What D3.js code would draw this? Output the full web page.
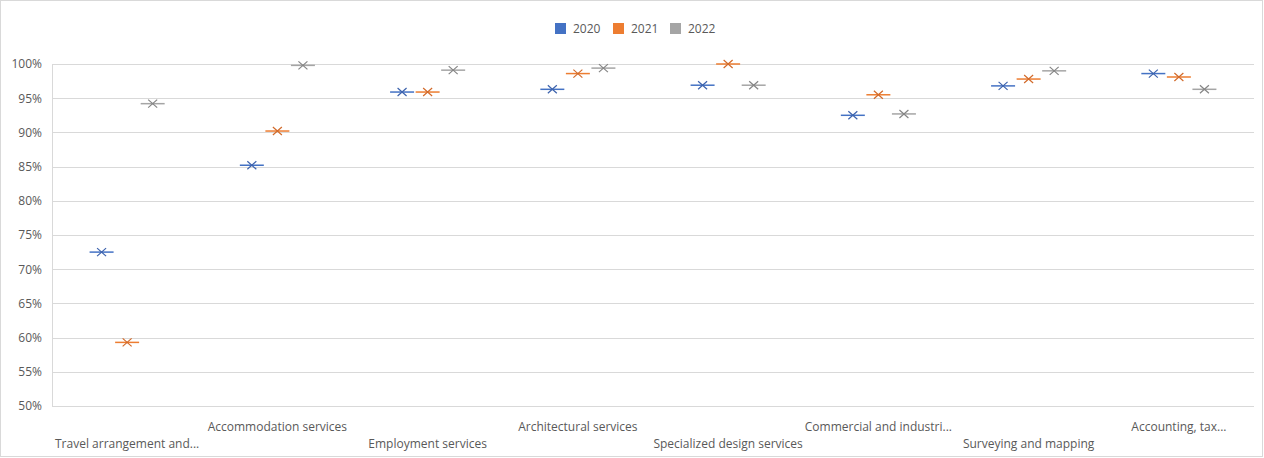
<!DOCTYPE html>
<html><head><meta charset="utf-8">
<script src="https://cdn.jsdelivr.net/npm/d3@7"></script>
<style>
html,body{margin:0;padding:0;background:#fff;}
svg{display:block;font-family:"Open Sans","Liberation Sans",sans-serif;}
</style></head>
<body><svg id="c" width="1264" height="458"></svg>
<script>
const categories = ["Travel arrangement and...","Accommodation services","Employment services","Architectural services","Specialized design services","Commercial and industri...","Surveying and mapping","Accounting, tax..."];
const seriesNames = ["2020","2021","2022"];
const values2020 = [72.5, 85.2, 95.9, 96.3, 96.9, 92.5, 96.8, 98.6];
const values2021 = [59.3, 90.2, 95.9, 98.6, 100.0, 95.5, 97.8, 98.1];
const values2022 = [94.2, 99.8, 99.1, 99.4, 96.9, 92.7, 99.0, 96.3];
const yTicks = [50,55,60,65,70,75,80,85,90,95,100];
const colors = ["#4472C4","#ED7D31","#A5A5A5"];
const markColors = ["#3d63ad","#d26a2a","#858585"];
const series = [values2020, values2021, values2022];

const svg = d3.select("#c");
const W = 1264, H = 458;
const m = {left:52, right:10, top:64, bottom:52};
const pw = 1254 - m.left, ph = 406 - m.top;

svg.append("rect").attr("x",0.5).attr("y",0.5).attr("width",W-2).attr("height",H-2)
  .attr("fill","#fff").attr("stroke","#d9d9d9");

const x = d3.scaleBand().domain(categories).range([m.left, m.left+pw]);
const y = d3.scaleLinear().domain([50,100]).range([m.top+ph, m.top]);

// gridlines
svg.append("g").selectAll("line").data(yTicks).join("line")
  .attr("x1", m.left).attr("x2", m.left+pw)
  .attr("y1", d=>Math.round(y(d))+0.5).attr("y2", d=>Math.round(y(d))+0.5)
  .attr("stroke","#d9d9d9").attr("stroke-width",1);
svg.append("line").attr("x1",m.left+0.5).attr("x2",m.left+0.5).attr("y1",m.top).attr("y2",m.top+ph)
  .attr("stroke","#d9d9d9");

// y axis labels
const ya = svg.append("g").attr("transform",`translate(${m.left},0)`)
  .call(d3.axisLeft(y).tickValues(yTicks).tickFormat(d=>d+"%").tickSize(0).tickPadding(10));
ya.select(".domain").remove();
ya.selectAll("text").attr("fill","#595959").style("font-size","12px").style("font-family","'Open Sans','Liberation Sans',sans-serif");

// x axis labels (staggered)
const xa = svg.append("g").attr("transform",`translate(0,${m.top+ph})`)
  .call(d3.axisBottom(x).tickSize(0).tickPadding(0));
xa.select(".domain").remove();
xa.selectAll("text").attr("fill","#595959").style("font-size","12px")
  .style("font-family","'Open Sans','Liberation Sans',sans-serif")
  .attr("dy",null)
  .attr("y",(d,i)=> i%2===0 ? 42 : 25);

// markers
const off = x.bandwidth()/6;
series.forEach((vals, si) => {
  const g = svg.append("g");
  const cx = (d,i) => x(categories[i]) + x.bandwidth()/2 + (si-1)*off*1.02;
  const pts = g.selectAll("g").data(vals).join("g")
    .attr("transform",(d,i)=>`translate(${cx(d,i)},${y(d)})`);
  pts.append("line").attr("x1",-12).attr("x2",12).attr("y1",0).attr("y2",0)
    .attr("stroke",colors[si]).attr("stroke-width",1.5);
  pts.append("path").attr("d","M-4.5,-4L4.5,4M-4.5,4L4.5,-4")
    .attr("stroke",markColors[si]).attr("stroke-width",1.2).attr("fill","none");
});

// legend
const legX = [555, 613, 670];
const lg = svg.append("g");
seriesNames.forEach((n,i)=>{
  lg.append("rect").attr("x",legX[i]).attr("y",23).attr("width",11).attr("height",11).attr("fill",colors[i]);
  lg.append("text").attr("x",legX[i]+18).attr("y",33).text(n)
    .attr("fill","#595959").style("font-size","12px");
});
</script></body></html>
